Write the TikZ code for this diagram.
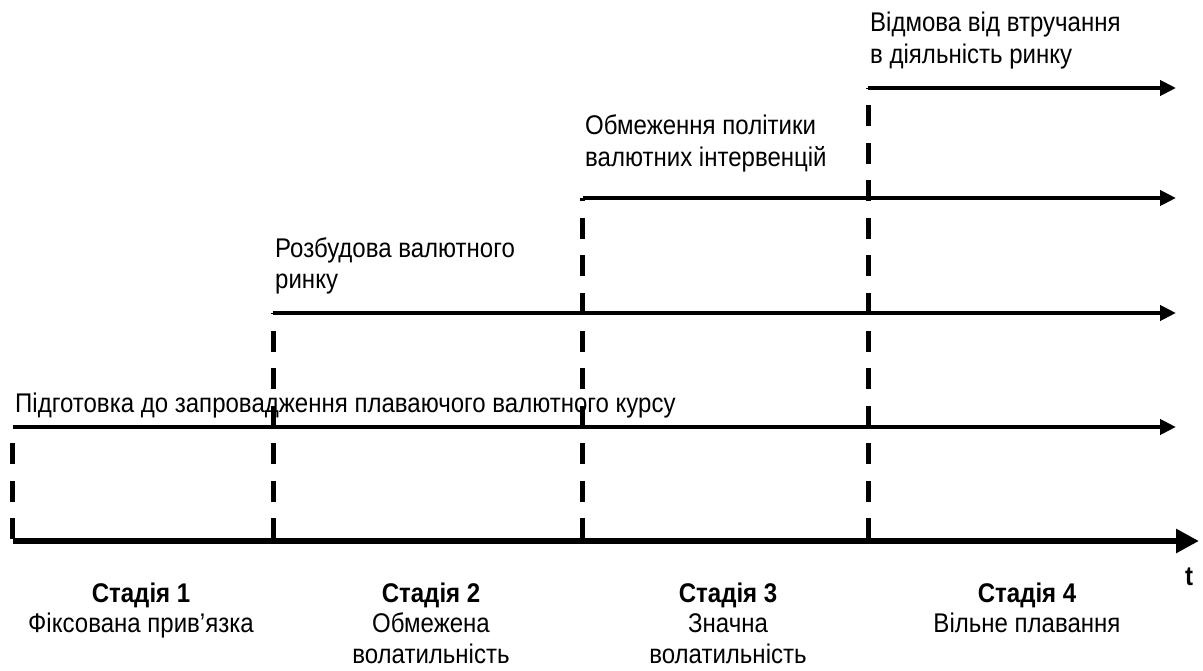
\documentclass[tikz,border=0pt]{standalone}
\usepackage{fontspec}
\setmainfont[FakeStretch=0.89]{Liberation Sans}
\usetikzlibrary{arrows.meta}
\begin{document}
\begin{tikzpicture}[x=1pt,y=-1pt,
  lbl/.style={anchor=base west, inner sep=0pt, align=left, font=\fontsize{27}{32}\selectfont},
  stage/.style={anchor=base, inner sep=0pt, align=center, font=\fontsize{27}{30.5}\selectfont},
  track/.style={line width=4pt, -{Triangle[length=16pt,width=15pt]}},
  timeaxis/.style={line width=6.5pt, -{Triangle[length=23pt,width=23pt]}},
  divider/.style={line width=5pt, dash pattern=on 21pt off 16.5pt}]
\useasboundingbox (0,0) rectangle (1203,671);
% axis
\coordinate (a0) at (12.5,541);
\coordinate (a1) at (1199,541);
\draw[timeaxis] (a0) -- (a1);
% divider bottoms and tops
\coordinate (d1b) at (12.5,539);  \coordinate (d1t) at (12.5,427);
\coordinate (d2b) at (273,539);   \coordinate (d2t) at (273,313);
\coordinate (d3b) at (582.5,539); \coordinate (d3t) at (582.5,198);
\coordinate (d4b) at (868,539);   \coordinate (d4t) at (868,88);
\draw[divider] (d1b) -- (d1t);
\draw[divider] (d2b) -- (d2t);
\draw[divider] (d3b) -- (d3t);
\draw[divider] (d4b) -- (d4t);
% tracks
\coordinate (t1) at (1176,427);
\coordinate (t2) at (1176,313);
\coordinate (t3) at (1176,198);
\coordinate (t4) at (1176,88);
\draw[track] (d1t) -- (t1);
\draw[track] (d2t) -- (t2);
\draw[track] (d3t) -- (t3);
\draw[track] (d4t) -- (t4);
% track labels (anchored at the baseline of the last line)
\node[lbl] (l1) at (15,412) {Підготовка до запровадження плаваючого валютного курсу};
\node[lbl] (l2) at (275,289) {Розбудова валютного\\ринку};
\node[lbl] (l3) at (585,167) {Обмеження політики\\валютних інтервенцій};
\node[lbl] (l4) at (870,64) {Відмова від втручання\\в діяльність ринку};
% stages
\node[stage] (s1) at (141,632.5) {\textbf{Стадія 1}\\Фіксована прив’язка};
\node[stage] (s2) at (431,663) {\textbf{Стадія 2}\\Обмежена\\волатильність};
\node[stage] (s3) at (728,663) {\textbf{Стадія 3}\\Значна\\волатильність};
\node[stage] (s4) at (1027,632.5) {\textbf{Стадія 4}\\Вільне плавання};
\node[anchor=base, inner sep=0pt, font=\fontsize{27}{30}\selectfont\bfseries] (tl) at (1189,585) {t};
\end{tikzpicture}
\end{document}
